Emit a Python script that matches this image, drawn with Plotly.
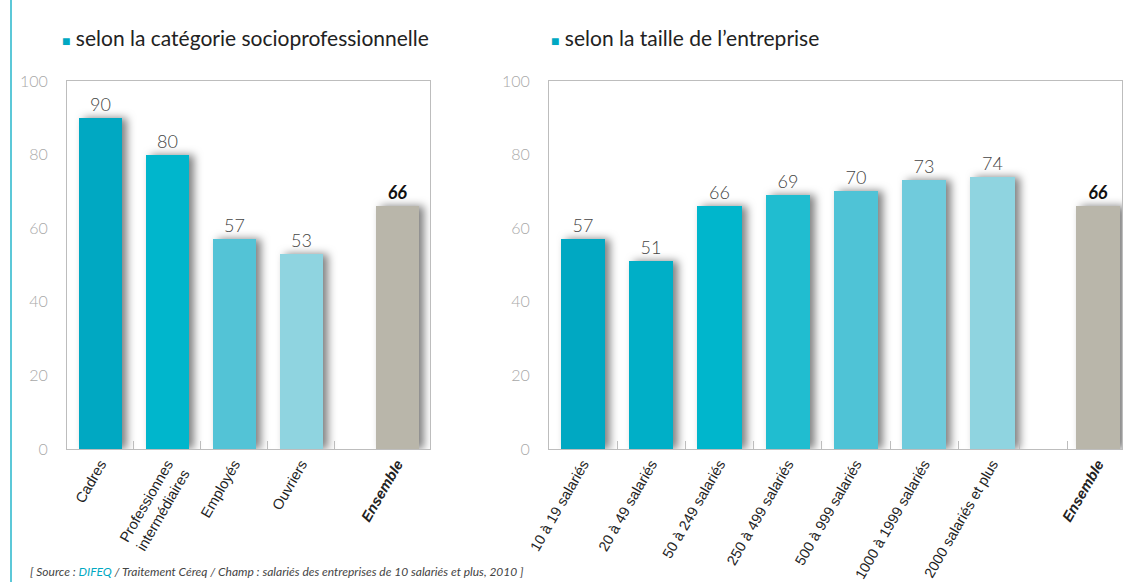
import plotly.graph_objects as go

# Part des salariés (%) — par catégorie socioprofessionnelle
csp_labels = ["Cadres", "Professionnes<br>intermédiaires", "Employés", "Ouvriers"]
csp_values = [90, 80, 57, 53]
csp_colors = ["#00a8c2", "#00b6cc", "#53c3d6", "#8fd4e0"]

# Part des salariés (%) — par taille d'entreprise
size_labels = ["10 à 19 salariés", "20 à 49 salariés", "50 à 249 salariés",
               "250 à 499 salariés", "500 à 999 salariés", "1000 à 1999 salariés",
               "2000 salariés et plus"]
size_values = [57, 51, 66, 69, 70, 73, 74]
size_colors = ["#00a8c2", "#00afc7", "#00b6cc", "#20bdd0", "#4fc3d6", "#70cbdc", "#8fd4e0"]

ensemble_label = "Ensemble"
ensemble_value = 66
ensemble_color = "#b9b6aa"

# category positions (Ensemble set apart from the other bars)
csp_pos = [0, 1, 2, 3]
csp_ens_pos = 4.43
size_pos = [0, 1, 2, 3, 4, 5, 6]
size_ens_pos = 7.55

W, H = 1127, 582
label_font = dict(family="Lato, 'Open Sans', sans-serif", size=18, color="#444444", weight=300)
ens_font = dict(family="Lato, 'Open Sans', sans-serif", size=18, color="#111111")

fig = go.Figure()

def add_panel(xaxis, pos, vals, cols, ens_pos, width):
    fig.add_trace(go.Bar(
        x=pos, y=vals, marker=dict(color=cols, line=dict(width=0)), width=width,
        text=[str(v) for v in vals], textposition="outside", textfont=label_font,
        cliponaxis=False, xaxis=xaxis, yaxis=xaxis.replace("x", "y"), showlegend=False,
        hoverinfo="skip"))
    fig.add_trace(go.Bar(
        x=[ens_pos], y=[ensemble_value], marker=dict(color=ensemble_color, line=dict(width=0)),
        width=width, text=["<b><i>%d</i></b>" % ensemble_value], textposition="outside",
        textfont=ens_font, cliponaxis=False, xaxis=xaxis, yaxis=xaxis.replace("x", "y"),
        showlegend=False, hoverinfo="skip"))

add_panel("x", csp_pos, csp_values, csp_colors, csp_ens_pos, 0.64)
add_panel("x2", size_pos, size_values, size_colors, size_ens_pos, 0.65)

dom_y = [(H - 449) / H, (H - 81) / H]
line_col = "#bdbdbd"
tick_font = dict(family="'Liberation Sans', Arial, sans-serif", size=14.5, color="#222222")
ytick_font = dict(family="Lato, 'Open Sans', sans-serif", size=16, color="#a8a8a8", weight=300)

def x_axis(domain, rng, tvals, ttext, anchor):
    return dict(domain=domain, range=rng, tickmode="array", tickvals=tvals, ticktext=ttext,
                tickangle=-60, tickfont=tick_font, showline=True, linecolor=line_col,
                linewidth=1, mirror=True, showgrid=False, zeroline=False, ticks="",
                ticklen=0, anchor=anchor, fixedrange=True, automargin=False)

def y_axis(anchor):
    return dict(domain=dom_y, range=[0, 100], tickvals=[0, 20, 40, 60, 80, 100],
                tickfont=ytick_font, showline=True, linecolor=line_col, linewidth=1,
                mirror=True, showgrid=False, zeroline=False, ticks="",
                ticklabelstandoff=15, anchor=anchor, fixedrange=True, automargin=False)

left_dom = [67 / W, 430 / W]
right_dom = [549 / W, 1122 / W]
left_rng = [-0.5, 4.92]
right_rng = [-0.5, 7.9]

layout = dict(
    width=W, height=H, margin=dict(l=0, r=0, t=0, b=0, autoexpand=False),
    paper_bgcolor="white", plot_bgcolor="white", bargap=0,
    xaxis=x_axis(left_dom, left_rng, csp_pos + [csp_ens_pos],
                 csp_labels + ["<b><i>%s</i></b>" % ensemble_label], "y"),
    yaxis=y_axis("x"),
    xaxis2=x_axis(right_dom, right_rng, size_pos + [size_ens_pos],
                  size_labels + ["<b><i>%s</i></b>" % ensemble_label], "y2"),
    yaxis2=y_axis("x2"),
    # separators between categories drawn as inside tick marks on overlay axes
    xaxis3=dict(domain=left_dom, range=left_rng, overlaying="x", anchor="y",
                tickvals=[0.5, 1.5, 2.5, 3.5], showticklabels=False, ticks="inside",
                ticklen=8, tickcolor=line_col, showgrid=False, zeroline=False,
                showline=False, side="bottom", fixedrange=True, automargin=False),
    xaxis4=dict(domain=right_dom, range=right_rng, overlaying="x2", anchor="y2",
                tickvals=[0.5, 1.5, 2.5, 3.5, 4.5, 5.5, 6.4, 7.1], showticklabels=False,
                ticks="inside", ticklen=8, tickcolor=line_col, showgrid=False,
                zeroline=False, showline=False, side="bottom", fixedrange=True,
                automargin=False),
)
fig.update_layout(**layout)

# invisible points so the overlay tick axes render
fig.add_trace(go.Scatter(x=[0], y=[0], xaxis="x3", yaxis="y", mode="markers",
                         marker=dict(opacity=0), showlegend=False, hoverinfo="skip"))
fig.add_trace(go.Scatter(x=[0], y=[0], xaxis="x4", yaxis="y2", mode="markers",
                         marker=dict(opacity=0), showlegend=False, hoverinfo="skip"))

title_font = dict(family="Lato, 'Open Sans', sans-serif", size=21, color="#222222")
square = "<span style='color:#00a8c2;font-size:14px'>■</span> "
fig.add_annotation(xref="paper", yref="paper", x=60 / W, y=(H - 37) / H, xanchor="left",
                   yanchor="middle", showarrow=False,
                   text=square + "selon la catégorie socioprofessionnelle", font=title_font)
fig.add_annotation(xref="paper", yref="paper", x=549 / W, y=(H - 37) / H, xanchor="left",
                   yanchor="middle", showarrow=False,
                   text=square + "selon la taille de l’entreprise", font=title_font)

# source line along the bottom edge
fig.add_annotation(xref="paper", yref="paper", x=28 / W, y=1 / H, xanchor="left",
                   yanchor="bottom", showarrow=False,
                   text="<i>[ Source : <span style='color:#00a8c2'>DIFEQ</span> / Traitement Céreq / "
                        "Champ : salariés des entreprises de 10 salariés et plus, 2010 ]</i>",
                   font=dict(family="Lato, sans-serif", size=12, color="#444444"))

# vertical rule on the left edge
fig.add_shape(type="line", xref="paper", yref="paper", x0=11 / W, x1=11 / W, y0=0, y1=1,
              line=dict(color="#5cc8d8", width=2))

post = """
var gd = document.getElementById('{plot_id}');
function shade(){
  gd.querySelectorAll('.barlayer .point path').forEach(function(p){
    p.style.filter = 'drop-shadow(5px 0px 4px rgba(0,0,0,0.5))';
  });
}
shade();
gd.on('plotly_afterplot', shade);
"""

fig.write_html("out.html", post_script=post, config={"displayModeBar": False})
